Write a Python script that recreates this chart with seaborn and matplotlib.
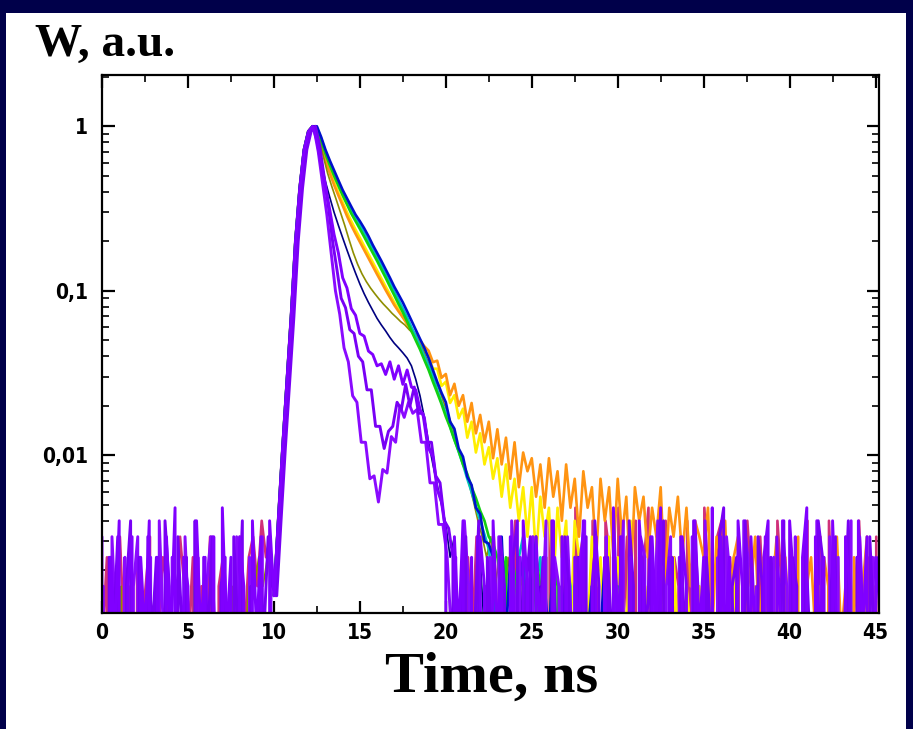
import numpy as np
import pandas as pd
import matplotlib
matplotlib.use("Agg")
import matplotlib.pyplot as plt
import seaborn as sns
from matplotlib.patches import Rectangle
from matplotlib.ticker import LogLocator, NullFormatter, MultipleLocator

# ---------------- data ----------------
DT = 0.25          # ns between samples
UNIT = 0.0008      # one photon count in normalised units (peak = 1250 counts)

X_TICKS = [0, 5, 10, 15, 20, 25, 30, 35, 40, 45]
Y_TICKS = [1, 0.1, 0.01]
Y_TICK_LABELS = ["1", "0,1", "0,01"]

# common rising edge, t = 10.0 ... 12.0 ns
RISE = [0.0014, 0.004, 0.011, 0.028, 0.07, 0.2, 0.42, 0.72, 0.93]

# decays start at t = 12.25 ns, tails (in counts) follow directly
BLUE_DECAY = [1.0, 1.0, 0.86, 0.72, 0.62, 0.54, 0.47, 0.41, 0.365, 0.325, 0.29, 0.265,
              0.24, 0.215, 0.19, 0.17, 0.152, 0.135, 0.12, 0.106, 0.095, 0.085, 0.075,
              0.066, 0.058, 0.051, 0.045, 0.039, 0.033, 0.028, 0.024, 0.021, 0.016,
              0.0145, 0.011, 0.0098, 0.0074, 0.0066, 0.0048, 0.0044, 0.0030, 0.0029]
BLUE_TAIL = [3, 0, 4, 1, 3, 0, 2, 3, 0, 2, 4, 0, 2, 1, 3, 0, 2, 1, 0, 2, 3, 0, 1, 2, 0, 1, 3, 0, 2, 1]

GREEN_DECAY = [1.0, 0.97, 0.82, 0.68, 0.58, 0.5, 0.435, 0.38, 0.335, 0.295, 0.265, 0.238,
               0.213, 0.19, 0.17, 0.152, 0.135, 0.12, 0.106, 0.094, 0.083, 0.074, 0.065,
               0.057, 0.05, 0.044, 0.038, 0.033, 0.028, 0.024, 0.0205, 0.0172, 0.0148,
               0.0124, 0.0106, 0.0088, 0.0077, 0.0064, 0.0055, 0.0046, 0.0040, 0.0032,
               0.0029, 0.0024]
GREEN_TAIL = [2, 3, 0, 2, 3, 0, 2, 1, 3, 2, 0, 1, 3, 2, 0, 2, 1, 0, 3, 1, 0, 2, 1, 0, 2, 0, 1, 2]

CYAN_DECAY = [1.0, 0.98, 0.84, 0.70, 0.60, 0.52, 0.45, 0.395, 0.35, 0.31, 0.277, 0.25,
              0.225, 0.2, 0.178, 0.16, 0.142, 0.126, 0.112, 0.099, 0.088, 0.078, 0.069,
              0.06, 0.053, 0.046, 0.040, 0.035, 0.030, 0.025, 0.021, 0.018, 0.015,
              0.0125, 0.0105, 0.0088, 0.0072, 0.006, 0.0049, 0.004, 0.0033, 0.0027]
CYAN_TAIL = [2, 1, 3, 0, 2, 1, 3, 4, 1, 0, 2, 3, 1, 0, 2, 1, 0, 3, 2, 0, 1, 2]

ORANGE_DECAY = [1.0, 0.93, 0.76, 0.62, 0.52, 0.44, 0.38, 0.33, 0.285, 0.25, 0.222, 0.198,
                0.177, 0.158, 0.141, 0.126, 0.113, 0.101, 0.091, 0.082, 0.075, 0.069,
                0.063, 0.058, 0.054, 0.05, 0.046]
ORANGE_TAIL = [54, 46, 47, 37, 39, 29, 34, 25, 29, 20, 26, 17, 22, 15, 20, 12, 18, 11, 16, 9,
               15, 8, 13, 10, 12, 7, 11, 6, 12, 7, 10, 5, 11, 6, 9, 4, 10, 6, 8, 3,
               9, 5, 8, 3, 9, 4, 7, 2, 8, 5, 7, 3, 6, 4, 8, 2, 6, 4, 7, 3,
               6, 2, 5, 4, 3, 6, 1, 4, 3, 5, 1, 3, 4, 0, 3, 2, 4, 1, 3, 0,
               2, 4, 0, 3, 1, 2, 4, 0, 2, 3, 1, 0, 3, 2, 0, 4, 1, 2, 0, 3,
               1, 2, 4, 0, 2]

YELLOW_DECAY = [1.0, 0.94, 0.78, 0.64, 0.54, 0.46, 0.395, 0.345, 0.3, 0.265, 0.235, 0.21,
                0.187, 0.167, 0.149, 0.133, 0.119, 0.106, 0.095, 0.085, 0.077, 0.069,
                0.063, 0.057, 0.052, 0.047, 0.043]
YELLOW_TAIL = [50, 42, 42, 33, 35, 26, 29, 21, 24, 16, 20, 13, 17, 11, 14, 9, 12, 7, 11, 6,
               9, 5, 8, 4, 8, 3, 7, 4, 6, 2, 6, 3, 5, 1, 5, 3, 4, 1, 4, 2,
               3, 1, 4, 0, 3, 2, 1, 5, 0, 3, 1, 2, 0, 4, 1, 2, 0, 3, 1, 0,
               2, 1, 0, 2, 1, 3, 0, 1, 2, 0, 1, 3, 0, 2, 1, 0, 2, 1, 0, 3,
               1, 0, 2, 1, 0, 2, 0, 1, 3, 0, 1, 2, 0, 1, 0, 2, 1, 0, 3, 1,
               0, 2, 1, 0, 2]

NAVY_DECAY = [1.0, 0.85, 0.62, 0.46, 0.37, 0.3, 0.25, 0.21, 0.177, 0.15, 0.128, 0.11,
              0.096, 0.085, 0.076, 0.068, 0.062, 0.057, 0.052, 0.048, 0.045, 0.042,
              0.039, 0.035, 0.029, 0.023, 0.017, 0.012, 0.0088, 0.0066, 0.005, 0.0038]
NAVY_TAIL = [3, 4, 0, 3, 1, 2, 0, 3, 1, 2, 0, 1, 3, 0, 2, 0, 1, 2, 0, 1, 0, 2, 0, 1]

OLIVE_PRE = [0, 1, 0, 0, 2, 0, 1, 0, 0, 1, 0, 0, 2, 0, 0, 1, 0, 0, 1, 0,
             0, 2, 0, 0, 1, 0, 0, 0, 1, 0, 2, 0, 0, 1, 3, 2, 3, 2, 3, 2]
OLIVE_DECAY = [1.0, 0.86, 0.66, 0.52, 0.43, 0.36, 0.3, 0.25, 0.205, 0.17, 0.145, 0.127,
               0.114, 0.104, 0.096, 0.089, 0.083, 0.078, 0.073, 0.069, 0.065, 0.062,
               0.058, 0.055, 0.05, 0.045, 0.039, 0.034, 0.029, 0.025, 0.021, 0.018,
               0.015, 0.012, 0.01, 0.0082, 0.0066, 0.0052]
OLIVE_TAIL = [5, 4, 3, 4, 2, 3, 1, 3, 2, 0, 2, 3, 1, 0, 2, 1, 3, 0, 1, 2, 0, 1, 0, 2, 1, 0]

P1_PRE = [4, 0, 3, 1, 5, 0, 2, 4, 0, 3, 1, 5, 0, 3, 0, 4, 1, 6, 0, 3,
          2, 0, 5, 1, 3, 0, 4, 0, 6, 1, 3, 0, 4, 2, 0, 5, 1, 4, 0, 5]
P1_DECAY = [1.0, 0.82, 0.58, 0.43, 0.31, 0.22, 0.17, 0.12, 0.104, 0.078, 0.071, 0.055,
            0.053, 0.043, 0.041, 0.035, 0.036, 0.031, 0.037, 0.029, 0.035, 0.027, 0.033,
            0.026, 0.025, 0.019, 0.017, 0.011, 0.0098, 0.0062, 0.0052, 0.0034]
P1_TAIL = [0, 4, 1, 5, 0, 3, 0, 4, 2, 0, 5, 1, 3, 0, 4, 1,
           0, 5, 2, 0, 4, 1, 3, 0, 5, 0, 4, 2, 0, 3, 1, 5, 0, 2, 4, 0,
           3, 0, 6, 1, 4, 0, 3, 0, 5, 2, 0, 4, 1, 6, 0, 3, 1, 0, 4, 2,
           0, 5, 1, 3, 0, 6, 0, 4, 1, 3, 0, 5, 2, 0, 4, 1, 0, 3, 5, 0,
           4, 1, 0, 5, 2, 0, 3, 6, 0, 4, 1, 3, 0, 5, 1, 0, 4, 2, 0, 5,
           1, 4, 0, 3]

P2_PRE = [0, 3, 1, 4, 0, 2, 5, 0, 3, 0, 4, 1, 3, 0, 5, 2, 0, 4, 1, 3,
          0, 5, 0, 3, 1, 4, 0, 2, 3, 0, 4, 1, 5, 0, 2, 0, 3, 1, 4, 2]
P2_DECAY = [1.0, 0.76, 0.5, 0.33, 0.2, 0.135, 0.09, 0.079, 0.058, 0.055, 0.04, 0.037,
            0.025, 0.025, 0.015, 0.015, 0.011, 0.014, 0.015, 0.021, 0.019, 0.027, 0.02,
            0.026, 0.018, 0.018, 0.012, 0.012, 0.0075, 0.0068, 0.004, 0.0036]
P2_TAIL = [3, 0, 2, 4, 0, 1, 5, 0, 3, 1, 0, 4, 2, 0, 3, 5,
           0, 2, 4, 0, 1, 3, 0, 5, 1, 0, 4, 2, 0, 3, 1, 4, 0, 5, 2, 0,
           3, 1, 0, 4, 0, 5, 2, 0, 3, 1, 4, 0, 2, 5, 0, 3, 0, 4, 1, 0,
           5, 2, 0, 3, 1, 0, 4, 6, 0, 2, 3, 0, 5, 1, 0, 4, 2, 0, 3, 0,
           1, 5, 0, 3, 2, 0, 4, 1, 0, 5, 3, 0, 2, 4, 0, 1, 5, 0, 3, 2,
           0, 4, 1, 3]

P3_PRE = [2, 0, 4, 1, 0, 3, 0, 2, 4, 0, 1, 3, 0, 5, 1, 0, 3, 2, 0, 4,
          1, 0, 3, 0, 2, 4, 1, 0, 3, 1, 0, 4, 2, 0, 3, 0, 1, 4, 0, 3]
P3_DECAY = [0.97, 0.7, 0.45, 0.29, 0.17, 0.1, 0.072, 0.045, 0.037, 0.023, 0.021, 0.012,
            0.012, 0.0072, 0.0075, 0.0052, 0.0082, 0.0078, 0.013, 0.012, 0.02, 0.017,
            0.021, 0.018, 0.019, 0.012, 0.012, 0.0068, 0.0068, 0.0038, 0.0038, 0.0024]
P3_TAIL = [1, 3, 0, 5, 2, 0, 4, 1, 0, 3, 0, 4, 2, 0, 5, 1,
           3, 0, 2, 4, 0, 1, 5, 0, 3, 2, 0, 4, 1, 0, 3, 5, 0, 2, 1, 0,
           4, 0, 3, 1, 5, 0, 2, 0, 4, 3, 0, 1, 5, 0, 2, 4, 0, 3, 1, 0,
           4, 2, 0, 5, 1, 0, 3, 0, 4, 2, 1, 0, 5, 3, 0, 2, 0, 4, 1, 3,
           0, 5, 2, 0, 4, 0, 3, 1, 0, 5, 2, 0, 4, 1, 3, 0, 2, 5, 0, 4,
           1, 0, 3, 2]

MAGENTA_PRE = [1, 3, 0, 2, 4, 1, 2, 0, 3, 1, 2, 4, 0, 1, 3, 2, 0, 1, 4, 2,
               1, 3, 0, 2, 1, 4, 0, 2, 3, 1, 0, 2, 4, 1, 3, 4, 2, 5, 3, 4]
MAGENTA_TAIL = [0, 3, 1, 4, 0, 2, 0, 4, 1, 3, 0, 2, 5, 0, 3, 1, 4, 0, 2, 0,
                5, 1, 0, 4, 3, 0, 6, 1, 4, 0, 5, 2, 0, 5, 3, 0, 6, 1, 4, 0,
                5, 0, 3, 6, 0, 4, 1, 5, 0, 3, 2, 0, 5, 1, 4, 0, 6, 2, 0, 4,
                5, 0, 3, 1, 4, 0, 5, 2, 0, 4, 1, 3, 0, 5, 2, 0, 4, 1, 0, 3,
                5, 0, 2, 4, 0, 5, 1, 3, 0, 4, 2, 0, 5, 1, 3, 0, 4]

COLORS = {
    "magenta": "#D0307A",
    "yellow": "#FFEE00",
    "orange": "#FF9412",
    "olive": "#8E8E00",
    "cyan": "#00C2C2",
    "green": "#12D012",
    "blue": "#0010CC",
    "navy": "#000080",
    "violet3": "#8A0AFF",
    "violet2": "#7800F5",
    "violet1": "#8000FF",
}


def w(counts):
    return [c * UNIT for c in counts]


# each trace: list of (start time of its first sample, values);
# the acquisitions are not phase locked, so the sampling grids differ slightly
TRACES = {
    "magenta": [(0.04, w(MAGENTA_PRE)), (21.04, w(MAGENTA_TAIL))],
    "yellow": [(10.0, RISE + YELLOW_DECAY + w(YELLOW_TAIL))],
    "orange": [(10.0, RISE + ORANGE_DECAY + w(ORANGE_TAIL))],
    "olive": [(0.12, w(OLIVE_PRE) + RISE + OLIVE_DECAY + w(OLIVE_TAIL))],
    "cyan": [(10.0, RISE + CYAN_DECAY + w(CYAN_TAIL))],
    "green": [(10.0, RISE + GREEN_DECAY + w(GREEN_TAIL))],
    "blue": [(10.0, RISE + BLUE_DECAY + w(BLUE_TAIL))],
    "navy": [(10.0, RISE + NAVY_DECAY + w(NAVY_TAIL))],
    "violet3": [(0.08, w(P3_PRE) + RISE + P3_DECAY + w(P3_TAIL))],
    "violet2": [(0.165, w(P2_PRE) + RISE + P2_DECAY + w(P2_TAIL))],
    "violet1": [(0.0, w(P1_PRE) + RISE + P1_DECAY + w(P1_TAIL))],
}

rows = []
for name, segs in TRACES.items():
    for k, (t0, vals) in enumerate(segs):
        for i, v in enumerate(vals):
            rows.append({"t": t0 + DT * i, "W": v, "trace": name, "seg": f"{name}_{k}"})
df = pd.DataFrame(rows)

# ---------------- figure ----------------
sns.set_theme(style="ticks")
plt.rcParams["font.family"] = ["DejaVu Sans"]

fig = plt.figure(figsize=(9.13, 7.29), dpi=100)
fig.patch.set_facecolor("#00004A")
fig.add_artist(Rectangle((6 / 913, 0), 900 / 913, 1 - 13 / 729,
                         transform=fig.transFigure, facecolor="white",
                         edgecolor="none", zorder=-5))

ax = fig.add_axes([102 / 913, 1 - 613 / 729, (879 - 102) / 913, (613 - 75) / 729])
ax.set_facecolor("white")

order = list(TRACES.keys())
sns.lineplot(data=df, x="t", y="W", hue="trace", units="seg", estimator=None,
             hue_order=order, palette=COLORS, sort=False, legend=False,
             linewidth=1.9, ax=ax)

thin = {COLORS["navy"].upper(), COLORS["olive"].upper()}
violet = {COLORS[k].upper() for k in ("violet1", "violet2", "violet3")}
for line in ax.lines:
    c = matplotlib.colors.to_hex(line.get_color()).upper()
    if c in thin:
        line.set_linewidth(1.2)
    elif c in violet:
        line.set_linewidth(2.1)

ax.set_yscale("log", nonpositive="clip")
ax.set_xlim(0, 45.2)
ax.set_ylim(0.0011, 2.05)

ax.set_xticks(X_TICKS)
ax.set_xticklabels([str(x) for x in X_TICKS])
ax.xaxis.set_minor_locator(MultipleLocator(2.5))
ax.set_yticks(Y_TICKS)
ax.set_yticklabels(Y_TICK_LABELS)
ax.yaxis.set_minor_locator(LogLocator(base=10, subs=np.arange(2, 10)))
ax.yaxis.set_minor_formatter(NullFormatter())

ax.set_xlabel("")
ax.set_ylabel("")
for s in ax.spines.values():
    s.set_linewidth(1.6)
    s.set_color("black")

ax.tick_params(which="both", direction="in", top=True, right=True, color="black")
ax.tick_params(which="major", length=9, width=1.6)
ax.tick_params(which="minor", length=5, width=1.2)
ax.tick_params(axis="y", which="major", pad=10)
ax.tick_params(axis="x", which="major", pad=7)

for lab in ax.get_xticklabels() + ax.get_yticklabels():
    lab.set_fontfamily("DejaVu Sans")
    lab.set_fontweight("bold")
    lab.set_fontstretch("condensed")
    lab.set_fontsize(15)
    lab.set_color("black")

fig.text(35 / 913, 1 - 45 / 729, "W, a.u.", family="Liberation Serif",
         weight="bold", fontsize=34, ha="left", va="center", color="black")
fig.text(492 / 913, 1 - 678 / 729, "Time, ns", family="Liberation Serif",
         weight="bold", fontsize=42, ha="center", va="center", color="black")

fig.savefig("out.png", dpi=100, facecolor=fig.get_facecolor())
